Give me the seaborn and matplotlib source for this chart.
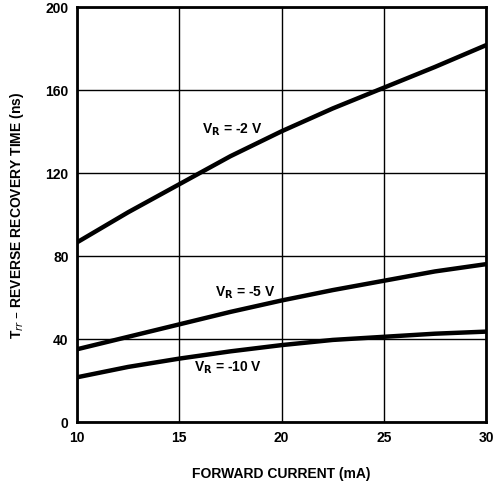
import matplotlib
matplotlib.use("Agg")
import matplotlib.pyplot as plt
import seaborn as sns
import pandas as pd

current_ma = [10, 12.5, 15, 17.5, 20, 22.5, 25, 27.5, 30]
trr_vr2 = [86.5, 101, 114.5, 128, 140, 151, 161, 171, 181.5]
trr_vr5 = [35, 41, 47, 53, 58.5, 63.5, 68, 72.5, 76]
trr_vr10 = [21.5, 26.5, 30.5, 34, 37, 39.5, 41, 42.5, 43.5]
series_names = ["-2 V", "-5 V", "-10 V"]

rows = []
for name, vals in zip(series_names, [trr_vr2, trr_vr5, trr_vr10]):
    for x, y in zip(current_ma, vals):
        rows.append({"current": x, "trr": y, "vr": name})
df = pd.DataFrame(rows)

sns.set_style("white")
plt.rcParams['font.family'] = ['Liberation Sans', 'DejaVu Sans']
plt.rcParams['text.color'] = 'black'
plt.rcParams['axes.labelcolor'] = 'black'
plt.rcParams['xtick.color'] = 'black'
plt.rcParams['ytick.color'] = 'black'

fig = plt.figure(figsize=(4.97, 4.85), dpi=100)
ax = fig.add_axes([0.155, 0.128, 0.823, 0.856])

sns.lineplot(data=df, x="current", y="trr", units="vr", estimator=None,
             color="black", linewidth=3.2, ax=ax, legend=False)

ax.set_xlim(10, 30)
ax.set_ylim(0, 200)
ax.set_xticks([10, 15, 20, 25, 30])
ax.set_yticks([0, 40, 80, 120, 160, 200])
ax.grid(True, color="black", linewidth=1.0)
ax.set_axisbelow(True)
for s in ax.spines.values():
    s.set_color("black")
    s.set_linewidth(2.0)
ax.tick_params(axis="both", length=0, labelsize=10, pad=6)
for lab in ax.get_xticklabels() + ax.get_yticklabels():
    lab.set_fontweight("bold")

ax.set_xlabel("FORWARD CURRENT (mA)", fontsize=10, fontweight="bold", labelpad=16)
ax.set_ylabel(r"T$_{rr}$ – REVERSE RECOVERY TIME (ns)", fontsize=10, fontweight="bold", labelpad=14)

ax.text(17.6, 141, r"V$_\mathbf{R}$ = -2 V", fontsize=10, fontweight="bold", ha="center", va="center")
ax.text(18.2, 62.5, r"V$_\mathbf{R}$ = -5 V", fontsize=10, fontweight="bold", ha="center", va="center")
ax.text(17.4, 26.5, r"V$_\mathbf{R}$ = -10 V", fontsize=10, fontweight="bold", ha="center", va="center")

fig.savefig("out.png", dpi=100)
